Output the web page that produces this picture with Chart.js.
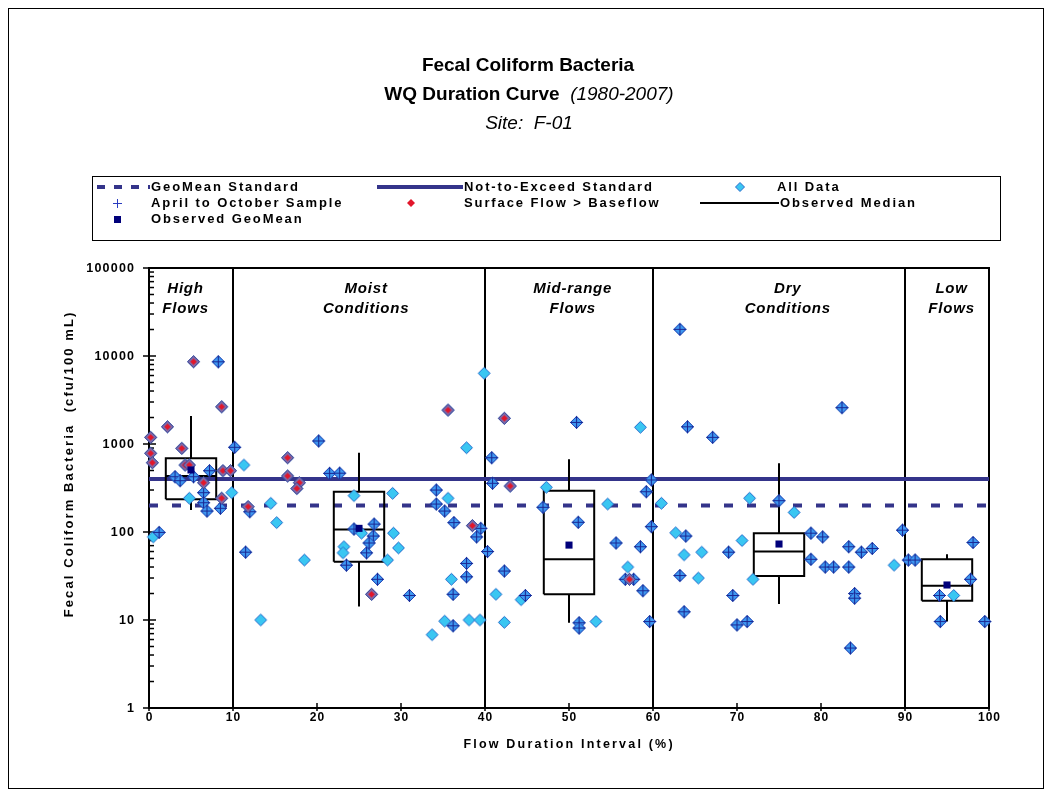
<!DOCTYPE html>
<html>
<head>
<meta charset="utf-8">
<script src="https://cdn.jsdelivr.net/npm/chart.js@4.4.1/dist/chart.umd.min.js"></script>
<style>
  html, body { margin: 0; padding: 0; background: #fff; }
  #wrap { width: 1052px; height: 797px; }
</style>
</head>
<body>
<div id="wrap"><canvas id="chart" width="1052" height="797"></canvas></div>
<script>
// samples without extra flags (plain "All Data" diamonds)
const plainFlow = [0.5, 4.8, 9.85, 11.3, 13.3, 14.5, 15.2, 18.5, 24.4, 29.0, 25.3, 23.2, 23.1, 29.1, 29.7, 28.4,
  35.6, 37.8, 36.0, 35.2, 33.7, 38.1, 39.4, 39.9, 41.3, 42.3, 44.3, 47.3, 53.2, 54.6, 57.0, 58.5,
  61.0, 62.7, 63.7, 65.8, 65.4, 70.6, 71.9, 71.5, 76.8, 88.7, 95.8];
const plainConc = [88, 242, 280, 577, 10, 212, 128, 48, 259, 275, 97, 68, 58, 97, 66, 48,
  242, 908, 29, 9.7, 6.8, 10, 10, 6360, 19.6, 9.4, 17, 322, 9.6, 208, 40, 1550,
  212, 98, 55, 59, 30, 80, 29, 242, 167, 42, 19];

// April to October samples
const aprFlow = [1.2, 3.1, 3.7, 5.3, 6.5, 6.5, 6.9, 7.2, 8.25, 8.5, 10.2,
  12.0, 11.5, 20.2, 21.5, 22.7, 24.4, 26.8, 26.7, 25.9, 26.2, 23.5, 27.2, 31.0, 34.2, 34.2, 35.2, 36.3, 39.5, 39.0, 37.8, 37.8, 36.2, 36.2,
  40.3, 40.8, 40.9, 42.3, 44.8, 46.9, 50.9, 51.1, 51.2, 51.2, 55.6, 56.7, 57.7, 58.5, 58.8, 59.2, 59.8, 59.8, 59.6,
  63.9, 63.2, 64.1, 63.2, 63.7, 67.1, 69.0, 69.5, 70.0, 71.2, 75.0, 78.8, 80.2, 78.8, 80.5, 81.5, 83.3, 83.3, 84.8, 86.1, 84.0, 84.0, 83.5, 82.5, 89.7,
  90.4, 91.2, 98.1, 97.8, 94.1, 94.2, 99.5];
const aprConc = [99, 425, 383, 425, 280, 215, 173, 497, 8600, 186, 917,
  170, 59, 1082, 464, 466, 108, 123, 90, 58, 75, 42, 29, 19, 300, 208, 173, 128, 110, 88, 44, 31, 19.6, 8.6,
  60, 698, 358, 36, 19, 191, 1760, 129, 9.3, 8.1, 75, 29, 29, 68, 21.5, 287, 390, 115, 9.6,
  90, 20100, 1570, 32, 12.4, 1190, 59, 19, 8.8, 9.6, 227, 97, 88, 49, 40, 40, 40, 68, 59, 65, 20, 17.7, 4.8, 2590, 105,
  48, 48, 76, 29, 19, 9.6, 9.6];

// surface flow > baseflow samples
const surfFlow = [0.2, 0.2, 0.4, 2.2, 3.9, 4.3, 4.8, 5.3, 6.5, 8.65, 8.65, 8.8, 9.7,
  11.8, 16.5, 16.5, 17.9, 17.6, 26.5, 35.6, 38.5, 42.3, 43.0, 57.2];
const surfConc = [1190, 784, 613, 1570, 893, 577, 577, 8610, 363, 2650, 242, 497, 497,
  194, 698, 433, 363, 312, 19.6, 2430, 118, 1960, 333, 29];

// observed geomean per zone
const geoFlow = [5, 25, 50, 75, 95];
const geoConc = [507, 110, 71, 73, 25];

// box plot per zone
const boxLo = [2, 22, 47, 72, 92];
const boxHi = [8, 28, 53, 78, 98];
const boxMin = [178, 14.2, 9.3, 15.2, 9.6];
const boxQ1 = [235, 46, 19.6, 31.6, 16.6];
const boxMed = [433, 107, 49, 60, 24.5];
const boxQ3 = [688, 287, 295, 97, 49];
const boxMax = [2080, 796, 670, 603, 56];

const geoMeanStd = 200;
const notToExceed = 400;

const zoneBounds = [10, 40, 60, 90];
const zoneNames = [["High", "Flows"], ["Moist", "Conditions"], ["Mid-range", "Flows"], ["Dry", "Conditions"], ["Low", "Flows"]];
const zoneLabelX = [4.3, 25.8, 50.4, 76, 95.5];

const yTicks = [1, 10, 100, 1000, 10000, 100000];
const xTicks = [0, 10, 20, 30, 40, 50, 60, 70, 80, 90, 100];

const FONT = "'Liberation Sans', Arial, sans-serif";
const NAVY = "#34348a";

const toPts = (xs, ys) => xs.map((x, i) => ({ x: x, y: ys[i] }));

function boxLines() {
  const pts = [];
  boxLo.forEach((lo, i) => {
    const hi = boxHi[i];
    const mid = (lo + hi) / 2;
    pts.push({ x: lo, y: boxQ1[i] }, { x: hi, y: boxQ1[i] }, { x: hi, y: boxQ3[i] }, { x: lo, y: boxQ3[i] }, { x: lo, y: boxQ1[i] }, { x: lo, y: null });
    pts.push({ x: lo, y: boxMed[i] }, { x: hi, y: boxMed[i] }, { x: hi, y: null });
    pts.push({ x: mid, y: boxQ3[i] }, { x: mid, y: boxMax[i] }, { x: mid, y: null });
    pts.push({ x: mid, y: boxQ1[i] }, { x: mid, y: boxMin[i] }, { x: mid, y: null });
  });
  return pts;
}

function marker(draw) {
  const c = document.createElement("canvas");
  c.width = 15;
  c.height = 15;
  draw(c.getContext("2d"));
  return c;
}

function diamond(g, cx, cy, r) {
  g.beginPath();
  g.moveTo(cx, cy - r);
  g.lineTo(cx + r, cy);
  g.lineTo(cx, cy + r);
  g.lineTo(cx - r, cy);
  g.closePath();
}

const cyanImg = marker((g) => {
  diamond(g, 7.5, 7.5, 6);
  g.fillStyle = "#3ac6f2";
  g.fill();
  g.strokeStyle = "#2a6ccc";
  g.lineWidth = 1;
  g.stroke();
});

const crossImg = marker((g) => {
  diamond(g, 7.5, 7.5, 6);
  g.fillStyle = "#3f9af2";
  g.fill();
  g.strokeStyle = "#2444b4";
  g.lineWidth = 1;
  g.stroke();
  g.beginPath();
  g.moveTo(7.5, 1);
  g.lineTo(7.5, 14);
  g.moveTo(1, 7.5);
  g.lineTo(14, 7.5);
  g.strokeStyle = "#1a2894";
  g.lineWidth = 1.1;
  g.stroke();
});

const redImg = marker((g) => {
  diamond(g, 7.5, 7.5, 6);
  g.fillStyle = "#7d6dab";
  g.fill();
  g.strokeStyle = "#40408f";
  g.lineWidth = 1;
  g.stroke();
  diamond(g, 7.5, 7.5, 3.3);
  g.fillStyle = "#e2162b";
  g.fill();
});

// draws text letter by letter so the wide spacing of the original can be matched
function spaced(ctx, text, x, y, sp, align) {
  const chars = [...text];
  const widths = chars.map((ch) => ctx.measureText(ch).width);
  const total = widths.reduce((s, w) => s + w, 0) + sp * (chars.length - 1);
  let cx = align === "center" ? x - total / 2 : align === "right" ? x - total : x;
  ctx.textAlign = "left";
  chars.forEach((ch, i) => {
    ctx.fillText(ch, cx, y);
    cx += widths[i] + sp;
  });
  return total;
}

function seg(ctx, x1, y1, x2, y2) {
  ctx.beginPath();
  ctx.moveTo(x1, y1);
  ctx.lineTo(x2, y2);
  ctx.stroke();
}

const decor = {
  id: "decor",
  beforeDraw(chart) {
    const ctx = chart.ctx;
    ctx.save();
    ctx.fillStyle = "#fff";
    ctx.fillRect(0, 0, chart.width, chart.height);

    ctx.strokeStyle = "#000";
    ctx.lineWidth = 1;
    ctx.strokeRect(8.5, 8.5, 1035, 780);

    // title
    ctx.fillStyle = "#000";
    ctx.textBaseline = "middle";
    ctx.font = "bold 19px " + FONT;
    ctx.textAlign = "center";
    ctx.fillText("Fecal Coliform Bacteria", 528, 66);

    const partA = "WQ Duration Curve  ";
    const partB = "(1980-2007)";
    ctx.font = "bold 19px " + FONT;
    const wA = ctx.measureText(partA).width;
    ctx.font = "italic 19px " + FONT;
    const wB = ctx.measureText(partB).width;
    const startX = 529 - (wA + wB) / 2;
    ctx.textAlign = "left";
    ctx.font = "bold 19px " + FONT;
    ctx.fillText(partA, startX, 95);
    ctx.font = "italic 19px " + FONT;
    ctx.fillText(partB, startX + wA, 95);
    ctx.textAlign = "center";
    ctx.fillText("Site:  F-01", 529, 124);

    // legend
    ctx.strokeStyle = "#000";
    ctx.lineWidth = 1;
    ctx.strokeRect(92.5, 176.5, 908, 64);

    const r1 = 187, r2 = 203, r3 = 219;
    ctx.strokeStyle = NAVY;
    ctx.lineWidth = 4;
    ctx.setLineDash([8, 9]);
    seg(ctx, 97, r1, 150, r1);
    ctx.setLineDash([]);
    seg(ctx, 377, r1, 463, r1);

    ctx.strokeStyle = "#2a3cc0";
    ctx.lineWidth = 1;
    seg(ctx, 117.5, r2 - 4, 117.5, r2 + 5);
    seg(ctx, 113, r2 + 0.5, 122, r2 + 0.5);

    ctx.fillStyle = "#00007a";
    ctx.fillRect(114, r3 - 3, 7, 7);

    diamond(ctx, 411, r2, 4);
    ctx.fillStyle = "#e2162b";
    ctx.fill();

    diamond(ctx, 740, r1, 4.5);
    ctx.fillStyle = "#3ac6f2";
    ctx.fill();
    ctx.strokeStyle = "#2a6ccc";
    ctx.lineWidth = 1;
    ctx.stroke();

    ctx.strokeStyle = "#000";
    ctx.lineWidth = 2;
    seg(ctx, 700, r2, 779, r2);

    ctx.fillStyle = "#000";
    ctx.font = "bold 13px " + FONT;
    spaced(ctx, "GeoMean Standard", 151, r1, 1.9, "left");
    spaced(ctx, "April to October Sample", 151, r2, 1.9, "left");
    spaced(ctx, "Observed GeoMean", 151, r3, 1.9, "left");
    spaced(ctx, "Not-to-Exceed Standard", 464, r1, 1.9, "left");
    spaced(ctx, "Surface Flow > Baseflow", 464, r2, 1.9, "left");
    spaced(ctx, "All Data", 777, r1, 1.9, "left");
    spaced(ctx, "Observed Median", 780, r2, 1.9, "left");
    ctx.restore();
  },
  beforeDatasetsDraw(chart) {
    const { ctx, chartArea: a, scales } = chart;
    const x = scales.x, y = scales.y;
    ctx.save();
    ctx.strokeStyle = "#000";
    ctx.lineWidth = 2;

    zoneBounds.forEach((b) => {
      const px = x.getPixelForValue(b);
      seg(ctx, px, a.top, px, a.bottom);
    });
    ctx.strokeRect(a.left, a.top, a.right - a.left, a.bottom - a.top);

    // y ticks, major and minor
    ctx.lineWidth = 1.5;
    for (let e = 0; e < 5; e++) {
      for (let m = 1; m < 10; m++) {
        const py = y.getPixelForValue(m * Math.pow(10, e));
        if (m === 1) seg(ctx, a.left - 6, py, a.left + 7, py);
        else seg(ctx, a.left, py, a.left + 5, py);
      }
    }
    const pTop = y.getPixelForValue(100000);
    seg(ctx, a.left - 6, pTop, a.left + 7, pTop);

    xTicks.forEach((v) => {
      const px = x.getPixelForValue(v);
      seg(ctx, px, a.bottom - 5, px, a.bottom + 3);
    });

    // tick labels
    ctx.fillStyle = "#000";
    ctx.textBaseline = "middle";
    ctx.font = "bold 12.5px " + FONT;
    y.ticks.forEach((t) => {
      spaced(ctx, String(t.value), 134, y.getPixelForValue(t.value) + 1, 1.2, "right");
    });
    ctx.font = "bold 12px " + FONT;
    x.ticks.forEach((t) => {
      spaced(ctx, String(t.value), x.getPixelForValue(t.value), 718, 1, "center");
    });

    // axis titles
    ctx.font = "bold 12.5px " + FONT;
    spaced(ctx, "Flow Duration Interval (%)", 568, 745, 2.2, "center");
    ctx.save();
    ctx.translate(69, 465);
    ctx.rotate(-Math.PI / 2);
    ctx.font = "bold 13px " + FONT;
    spaced(ctx, "Fecal Coliform Bacteria  (cfu/100 mL)", 0, 0, 2.1, "center");
    ctx.restore();

    // zone labels
    ctx.font = "italic bold 15px " + FONT;
    zoneNames.forEach((lines, i) => {
      const px = x.getPixelForValue(zoneLabelX[i]);
      spaced(ctx, lines[0], px, 289, 0.8, "center");
      spaced(ctx, lines[1], px, 309, 0.8, "center");
    });
    ctx.restore();
  }
};

const allFlow = plainFlow.concat(aprFlow, surfFlow);
const allConc = plainConc.concat(aprConc, surfConc);

new Chart(document.getElementById("chart"), {
  type: "scatter",
  data: {
    datasets: [
      {
        label: "Observed GeoMean",
        data: toPts(geoFlow, geoConc),
        pointStyle: "rect",
        pointRadius: 5,
        pointBackgroundColor: "#00007a",
        pointBorderWidth: 0,
        order: 0,
        clip: false
      },
      {
        label: "Surface Flow > Baseflow",
        data: toPts(surfFlow, surfConc),
        pointStyle: redImg,
        order: 1,
        clip: false
      },
      {
        label: "April to October Sample",
        data: toPts(aprFlow, aprConc),
        pointStyle: crossImg,
        order: 2,
        clip: false
      },
      {
        label: "All Data",
        data: toPts(allFlow, allConc),
        pointStyle: cyanImg,
        order: 3,
        clip: false
      },
      {
        label: "Observed Median",
        type: "line",
        data: boxLines(),
        showLine: true,
        spanGaps: false,
        borderColor: "#000",
        borderWidth: 2,
        pointRadius: 0,
        order: 4
      },
      {
        label: "Not-to-Exceed Standard",
        type: "line",
        data: [{ x: 0, y: notToExceed }, { x: 100, y: notToExceed }],
        borderColor: NAVY,
        borderWidth: 4,
        pointRadius: 0,
        order: 5
      },
      {
        label: "GeoMean Standard",
        type: "line",
        data: [{ x: 0, y: geoMeanStd }, { x: 100, y: geoMeanStd }],
        borderColor: NAVY,
        borderWidth: 4,
        borderDash: [9, 14],
        pointRadius: 0,
        order: 6
      }
    ]
  },
  options: {
    responsive: false,
    animation: false,
    layout: { padding: { top: 268, right: 63, bottom: 0, left: 0 } },
    plugins: {
      legend: { display: false },
      tooltip: { enabled: false },
      title: { display: false }
    },
    scales: {
      x: {
        type: "linear",
        min: 0,
        max: 100,
        ticks: { display: false, stepSize: 10 },
        grid: { display: false, drawTicks: false },
        border: { display: false },
        afterFit(s) { s.height = 89; }
      },
      y: {
        type: "logarithmic",
        min: 1,
        max: 100000,
        ticks: { display: false },
        grid: { display: false, drawTicks: false },
        border: { display: false },
        afterBuildTicks(s) { s.ticks = yTicks.map((v) => ({ value: v })); },
        afterFit(s) { s.width = 149; }
      }
    }
  },
  plugins: [decor]
});
</script>
</body>
</html>
